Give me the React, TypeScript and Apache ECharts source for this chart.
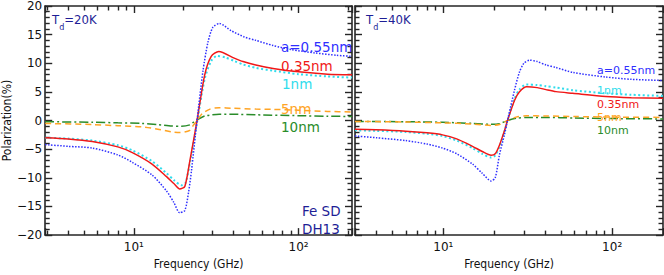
import React, { useEffect, useRef } from "react";
import * as echarts from "echarts";

// ---------- data (frequency GHz, polarization %) ----------
// Td = 20K panel
const f20_a055 = [2.9, 4, 5.6, 8, 9.8, 12.9, 15.8, 17.5, 19, 20.4, 21.5, 22.4, 24.2, 26.3, 28.2, 30.2, 33.1, 38.9, 46.8, 55, 70, 90, 126, 170, 211];
const p20_a055 = [-4.2, -4.5, -4.8, -6.0, -7.3, -9.5, -12.3, -14.3, -16.1, -15.7, -12.5, -8.7, 0, 8.7, 13.7, 16.3, 16.95, 15.7, 14.6, 14.0, 13.1, 12.4, 11.8, 11.4, 11.2];

const f20_a035 = [2.9, 4, 5.6, 8, 9.8, 12.9, 15.8, 17.5, 19, 20.4, 21.9, 24.2, 26.9, 29.5, 32.8, 40.7, 46, 55, 70, 100, 150, 211];
const p20_a035 = [-3.0, -3.2, -3.65, -4.6, -5.6, -7.6, -9.8, -11.0, -11.95, -11.5, -7.0, 0, 7.9, 11.2, 12.07, 10.9, 10.3, 9.7, 9.1, 8.5, 8.1, 8.0];

const f20_a1 = [2.9, 4, 5.6, 8, 9.8, 12.9, 15.8, 17.5, 19.5, 20.6, 22.1, 24.3, 27, 29.5, 32, 36, 40.7, 46, 55, 70, 100, 150, 211];
const p20_a1 = [-3.0, -3.15, -3.5, -4.3, -5.2, -7.1, -9.2, -10.4, -11.3, -10.9, -6.8, 0, 7.4, 10.4, 11.3, 11.0, 10.4, 9.8, 9.2, 8.7, 8.1, 7.7, 7.5];

const f20_a5 = [2.9, 5.6, 8, 11.2, 14, 17, 19, 21.9, 23, 24.2, 26, 29, 33, 40, 55, 70, 100, 150, 211];
const p20_a5 = [-0.5, -0.7, -0.9, -1.1, -1.5, -2.0, -2.1, -1.7, -0.8, 0, 1.2, 2.0, 2.25, 2.15, 2.0, 1.95, 1.8, 1.6, 1.5];

const f20_a10 = [2.9, 5.6, 8, 11.2, 14, 17, 19.5, 21.9, 23, 24.5, 27, 33, 40, 55, 100, 150, 211];
const p20_a10 = [-0.2, -0.3, -0.4, -0.5, -0.7, -0.95, -1.0, -0.75, -0.3, 0.2, 0.8, 1.1, 1.1, 1.0, 0.85, 0.75, 0.72];

// Td = 40K panel
const f40_a055 = [3, 4, 6, 8, 9.9, 12, 14.9, 17, 19.2, 20.3, 21.5, 23, 24, 26.4, 28.2, 30, 32.4, 36, 40.6, 46.5, 58.4, 91.6, 130, 200];
const p40_a055 = [-2.7, -3.0, -3.5, -4.1, -4.8, -5.8, -7.6, -9.2, -10.55, -10.0, -6.0, -2.5, 0, 5.3, 8.4, 10.0, 10.55, 10.3, 9.7, 9.26, 8.4, 7.6, 7.2, 7.0];

const f40_a035 = [3, 4, 6, 8, 9.9, 12, 14.9, 17, 19.2, 20.3, 21.5, 23, 24, 26.4, 28.2, 31.2, 36, 40.6, 46.5, 58.4, 91.6, 130, 200];
const p40_a035 = [-1.5, -1.6, -1.85, -2.15, -2.5, -3.2, -4.5, -5.4, -6.06, -5.8, -4.3, -1.8, 0, 3.5, 5.0, 5.9, 5.75, 5.4, 5.05, 4.76, 4.2, 4.0, 3.9];

const f40_a1 = [3, 4, 6, 8, 9.9, 12, 14.9, 17, 19.2, 20.3, 21.5, 23, 24, 26.4, 28.2, 31, 36, 40.6, 46.5, 58.4, 91.6, 130, 200];
const p40_a1 = [-1.7, -1.8, -2.0, -2.3, -2.7, -3.5, -4.8, -5.8, -6.45, -6.1, -4.6, -2.0, 0, 3.8, 5.4, 6.3, 6.2, 6.0, 5.77, 5.3, 4.76, 4.5, 4.3];

const f40_a5 = [3, 6, 9.9, 14.9, 19.2, 21.5, 24, 27, 31, 40, 60, 100, 200];
const p40_a5 = [-0.15, -0.25, -0.4, -0.6, -0.85, -0.7, 0, 0.6, 0.84, 0.8, 0.7, 0.6, 0.55];

const f40_a10 = [3, 6, 9.9, 14.9, 19.2, 21.5, 24, 27, 31, 40, 60, 100, 200];
const p40_a10 = [-0.15, -0.2, -0.3, -0.5, -0.65, -0.55, 0, 0.4, 0.55, 0.55, 0.45, 0.35, 0.28];

// axis ticks
const xMajorTicks = [10, 100];
const yMin = -20;
const yMax = 20;
const yInterval = 5;

const FONT = '"DejaVu Sans", Verdana, sans-serif';
const FONT_C = '"DejaVu Sans Condensed", "DejaVu Sans", sans-serif';
const AXIS_COLOR = "#262626";

const C_BLUE = "#2f2fff";
const C_RED = "#f01818";
const C_CYAN = "#30dcec";
const C_ORANGE = "#ffa424";
const C_GREEN = "#2a8c2a";
const C_NAVY = "#1e1e96";

const zip = (f: number[], p: number[]) => f.map((v, i) => [v, p[i]]);

const supers: Record<number, string> = { 1: "\u00b9", 2: "\u00b2" };

function xAxes(grid: number, min: number, max: number) {
  const ax = (position: string, labels: boolean) => ({
    type: "log",
    logBase: 10,
    gridIndex: grid,
    min,
    max,
    position,
    splitLine: { show: false },
    minorSplitLine: { show: false },
    axisLine: { show: true, onZero: false, lineStyle: { color: AXIS_COLOR, width: 1.6 } },
    name: labels ? "Frequency (GHz)" : "",
    nameLocation: "middle",
    nameGap: 17,
    nameTextStyle: { fontFamily: FONT_C, fontSize: 12, color: "#111" },
    axisTick: { show: true, inside: true, length: 7, lineStyle: { color: AXIS_COLOR, width: 1.4 } },
    minorTick: { show: true, splitNumber: 9, length: 4.5, lineStyle: { color: AXIS_COLOR, width: 1.4 } },
    axisLabel: {
      show: labels,
      customValues: xMajorTicks,
      margin: 6,
      fontFamily: FONT,
      fontSize: 12,
      color: "#111",
      formatter: (v: number) => {
        const e = Math.round(Math.log10(v));
        return Math.abs(Math.log10(v) - e) < 1e-6 && supers[e] ? "10" + supers[e] : "";
      },
    },
  });
  return [ax("bottom", true), ax("top", false)];
}

function yAxes(grid: number, position: string, labels: boolean) {
  return {
    type: "value",
    gridIndex: grid,
    position,
    min: yMin,
    max: yMax,
    interval: yInterval,
    name: labels ? "Polarization(%)" : "",
    nameLocation: "middle",
    nameGap: 26,
    nameTextStyle: { fontFamily: FONT_C, fontSize: 12, color: "#111" },
    splitLine: { show: false },
    axisLine: { show: true, onZero: false, lineStyle: { color: AXIS_COLOR, width: 1.6 } },
    axisTick: { show: true, inside: true, length: 7, lineStyle: { color: AXIS_COLOR, width: 1.4 } },
    minorTick: { show: true, splitNumber: 5, length: 4.5, lineStyle: { color: AXIS_COLOR, width: 1.4 } },
    axisLabel: {
      show: labels,
      margin: 3,
      fontFamily: FONT,
      fontSize: 12,
      color: "#111",
      formatter: (v: number) => (v < 0 ? "\u2212" + Math.abs(v) : String(v)),
    },
  };
}

function line(name: string, data: number[][], xi: number, yi: number, color: string, type: any, width: number) {
  return {
    type: "line",
    name,
    xAxisIndex: xi,
    yAxisIndex: yi,
    data,
    showSymbol: false,
    symbol: "none",
    smooth: 0.25,
    lineStyle: { color, type, width },
  };
}

function label(text: string, x: number, y: number, fill: string, size = 12) {
  return {
    type: "text",
    x,
    y,
    z: 100,
    style: { text, fill, fontFamily: FONT, fontSize: size, lineHeight: size, verticalAlign: "middle", align: "left" },
  };
}

function tdLabel(t: string, x: number, y: number) {
  return {
    type: "text",
    x,
    y,
    z: 100,
    style: {
      text: "{t|T}{s|d}{t|=" + t + "}",
      rich: {
        t: { fontFamily: FONT_C, fontSize: 13, lineHeight: 18, verticalAlign: "top", fill: C_NAVY },
        s: { fontFamily: FONT_C, fontSize: 9, lineHeight: 9, verticalAlign: "bottom", fill: C_NAVY },
      },
    },
  };
}

export default function App() {
  const ref = useRef<HTMLDivElement>(null);
  useEffect(() => {
    document.body.style.margin = "0";
    if (!ref.current) return;
    const chart = echarts.init(ref.current, null, { renderer: "svg" });
    const dotted = [1.5, 1.5];
    const cyanDot = [2, 2.5];
    const dashed = [6, 4];
    const dashDot = [9, 3, 2, 3];
    chart.setOption({
      animation: false,
      backgroundColor: "#fff",
      grid: [
        { left: 43, top: 6, width: 309, height: 237 },
        { left: 355, top: 6, width: 308, height: 237 },
      ],
      xAxis: [...xAxes(0, 2.9, 211), ...xAxes(1, 3, 200)],
      yAxis: [yAxes(0, "left", true), yAxes(0, "right", false), yAxes(1, "left", false), yAxes(1, "right", false)],
      series: [
        line("10nm 20K", zip(f20_a10, p20_a10), 0, 0, C_GREEN, dashDot, 1.5),
        line("5nm 20K", zip(f20_a5, p20_a5), 0, 0, C_ORANGE, dashed, 1.5),
        line("1nm 20K", zip(f20_a1, p20_a1), 0, 0, C_CYAN, cyanDot, 2),
        line("0.35nm 20K", zip(f20_a035, p20_a035), 0, 0, C_RED, "solid", 1.5),
        line("0.55nm 20K", zip(f20_a055, p20_a055), 0, 0, C_BLUE, dotted, 1.5),
        line("10nm 40K", zip(f40_a10, p40_a10), 2, 2, C_GREEN, dashDot, 1.5),
        line("5nm 40K", zip(f40_a5, p40_a5), 2, 2, C_ORANGE, dashed, 1.5),
        line("1nm 40K", zip(f40_a1, p40_a1), 2, 2, C_CYAN, cyanDot, 2),
        line("0.35nm 40K", zip(f40_a035, p40_a035), 2, 2, C_RED, "solid", 1.5),
        line("0.55nm 40K", zip(f40_a055, p40_a055), 2, 2, C_BLUE, dotted, 1.5),
      ],
      graphic: [
        tdLabel("20K", 52, 13),
        label("a=0.55nm", 281, 47, C_BLUE, 13.5),
        label("0.35nm", 281, 66, C_RED, 13.5),
        label("1nm", 282, 84, C_CYAN, 13.5),
        label("5nm", 281, 109, C_ORANGE, 13.5),
        label("10nm", 281, 127, C_GREEN, 13.5),
        label("Fe SD", 302, 211, C_NAVY, 13.5),
        label("DH13", 302, 229, C_NAVY, 13.5),
        tdLabel("40K", 366, 13),
        label("a=0.55nm", 597, 70, C_BLUE, 11),
        label("1nm", 597, 90, C_CYAN, 11),
        label("0.35nm", 597, 104.5, C_RED, 11),
        label("5nm", 597, 117, C_ORANGE, 11),
        label("10nm", 597, 130, C_GREEN, 11),
      ],
    });
    return () => chart.dispose();
  }, []);
  return <div ref={ref} style={{ position: "fixed", left: 0, top: 0, width: 664, height: 275 }} />;
}
